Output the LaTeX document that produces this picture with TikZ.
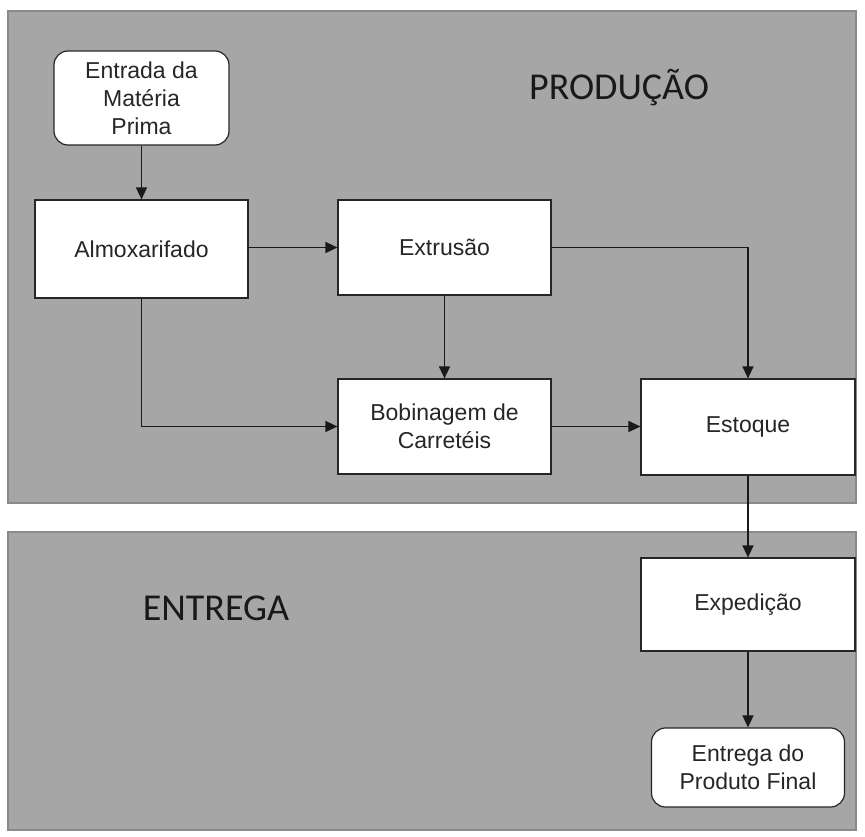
\documentclass[tikz,border=0pt]{standalone}
\usepackage{fontspec}
\setmainfont{Liberation Sans}
\newfontfamily\titlefont{Carlito}
\usetikzlibrary{arrows.meta}
\definecolor{panelgray}{HTML}{A6A6A6}
\definecolor{panelborder}{HTML}{8A8A8A}
\begin{document}
\begin{tikzpicture}[x=1pt,y=-1pt,
 panel/.style={fill=panelgray, draw=panelborder, line width=1.2pt},
 box/.style={draw=black!85, fill=white, line width=1.2pt, font=\fontsize{23}{28}\selectfont, text=black!85, align=center, inner sep=0pt},
 rbox/.style={box, rounded corners=14pt},
 conn/.style={line width=1.4pt, draw=black!90, -{Triangle[length=12pt,width=11pt]}},
 title/.style={font=\titlefont\fontsize{38}{40}\selectfont, text=black!90}]
\useasboundingbox[fill=white] (0,0) rectangle (865,837);
\draw[panel] (8,11) rectangle (856,503);
\draw[panel] (8,532) rectangle (856,830);
\node[title] (tprod) at (619,88) {PRODUÇÃO};
\node[title] (tentr) at (216,608) {ENTREGA};
\node[rbox, minimum width=175pt, minimum height=94pt] (ent) at (141.5,98) {Entrada da\\Matéria\\Prima};
\node[box, minimum width=213pt, minimum height=98pt] (alm) at (141.5,249) {Almoxarifado};
\node[box, minimum width=213pt, minimum height=95pt] (ext) at (444.5,247.5) {Extrusão};
\node[box, minimum width=213pt, minimum height=95pt] (bob) at (444.5,426.5) {Bobinagem de\\Carretéis};
\node[box, minimum width=214pt, minimum height=96pt] (est) at (748,427) {Estoque};
\node[box, minimum width=214pt, minimum height=93pt] (exp) at (748,604.5) {Expedição};
\node[rbox, minimum width=193pt, minimum height=79pt] (fin) at (748,767.5) {Entrega do\\Produto Final};
\draw[conn] (ent.south) -- (alm.north);
\draw[conn] (alm.east |- ext.west) -- (ext.west);
\draw[conn] (ext.south) -- (bob.north);
\draw[conn] (alm.south) |- (bob.west);
\draw[conn] (bob.east) -- (est.west |- bob.east);
\draw[conn] (ext.east) -| (est.north);
\draw[conn] (est.south) -- (exp.north);
\draw[conn] (exp.south) -- (fin.north);
\end{tikzpicture}
\end{document}
